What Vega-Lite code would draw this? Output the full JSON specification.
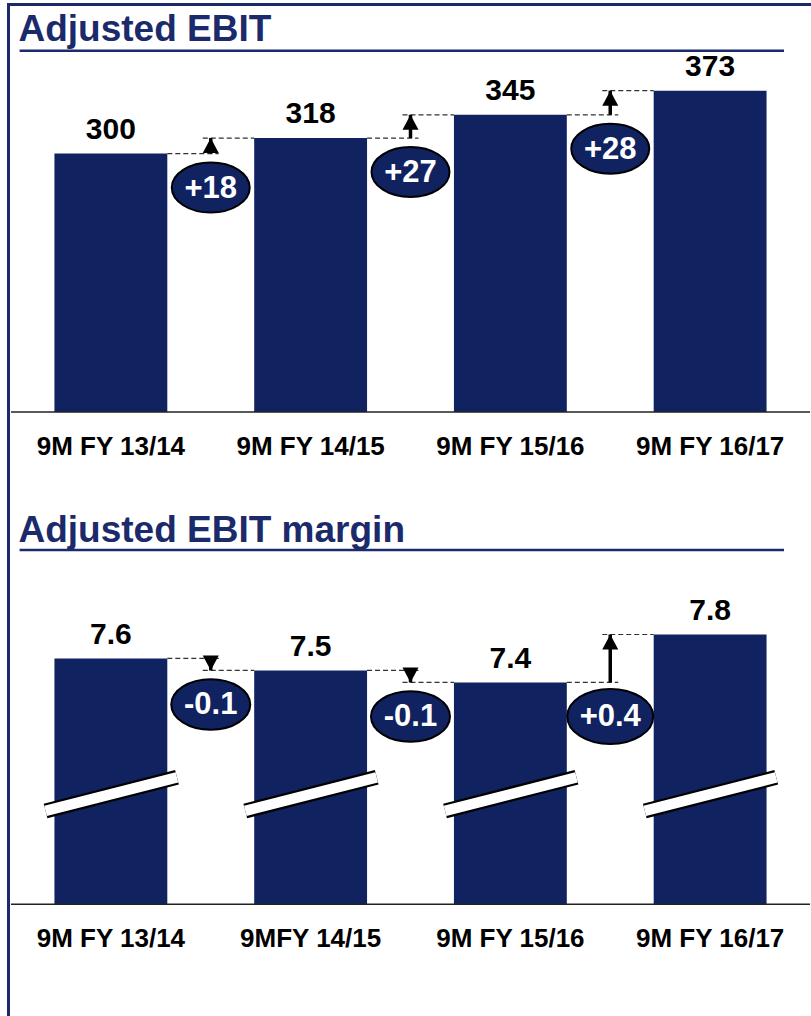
{
  "$schema": "https://vega.github.io/schema/vega-lite/v6.json",
  "width": 811,
  "height": 1016,
  "autosize": {"type": "fit", "contains": "padding"},
  "padding": {"left": 8, "top": 4, "right": 0, "bottom": 0},
  "background": "white",
  "config": {"view": {"stroke": null}, "font": "Liberation Sans"},
  "datasets": {
    "ebit": [
      {"cat": "9M FY 13/14", "label": "9M FY 13/14", "value": 300},
      {"cat": "9M FY 14/15", "label": "9M FY 14/15", "value": 318},
      {"cat": "9M FY 15/16", "label": "9M FY 15/16", "value": 345},
      {"cat": "9M FY 16/17", "label": "9M FY 16/17", "value": 373}
    ],
    "ebitDelta": [
      {"from": "9M FY 13/14", "to": "9M FY 14/15", "v0": 300, "v1": 318, "label": "+18"},
      {"from": "9M FY 14/15", "to": "9M FY 15/16", "v0": 318, "v1": 345, "label": "+27"},
      {"from": "9M FY 15/16", "to": "9M FY 16/17", "v0": 345, "v1": 373, "label": "+28"}
    ],
    "margin": [
      {"cat": "9M FY 13/14", "label": "9M FY 13/14", "value": 7.6},
      {"cat": "9M FY 14/15", "label": "9MFY 14/15", "value": 7.5},
      {"cat": "9M FY 15/16", "label": "9M FY 15/16", "value": 7.4},
      {"cat": "9M FY 16/17", "label": "9M FY 16/17", "value": 7.8}
    ],
    "marginDelta": [
      {"from": "9M FY 13/14", "to": "9M FY 14/15", "v0": 7.6, "v1": 7.5, "label": "-0.1"},
      {"from": "9M FY 14/15", "to": "9M FY 15/16", "v0": 7.5, "v1": 7.4, "label": "-0.1"},
      {"from": "9M FY 15/16", "to": "9M FY 16/17", "v0": 7.4, "v1": 7.8, "label": "+0.4"}
    ],
    "ebitTitle": [{"title": "Adjusted EBIT"}],
    "marginTitle": [{"title": "Adjusted EBIT margin"}]
  },
  "layer": [
    {
      "layer": [
        {
          "data": {"name": "ebit"},
          "mark": {"type": "bar", "color": "#10225F", "width": {"band": 0.565}},
          "encoding": {
            "x": {"field": "cat", "type": "nominal", "scale": {"padding": 0},
              "axis": {"orient": "top", "labels": false, "ticks": false, "grid": false, "title": null, "domainColor": "#1B2A6B", "domainWidth": 3, "domainCap": "square"}},
            "y": {"field": "value", "type": "quantitative", "scale": {"domain": [-701.0, 473.6], "nice": false, "zero": false},
              "axis": {"labels": false, "ticks": false, "grid": false, "title": null, "domainColor": "#1B2A6B", "domainWidth": 3, "domainCap": "square", "offset": 3}},
            "y2": {"datum": 0}
          }
        },
        {
          "data": {"name": "ebitTitle"},
          "mark": {"type": "rule", "color": "#222222", "strokeWidth": 1.5},
          "encoding": {"y": {"datum": 0, "type": "quantitative",
            "axis": {"labels": false, "ticks": false, "grid": false, "title": null, "domainColor": "#1B2A6B", "domainWidth": 3, "domainCap": "square", "offset": 3}}}
        },
        {
          "data": {"name": "ebitTitle"},
          "mark": {"type": "rule", "color": "#1B2A6B", "strokeWidth": 2.5},
          "encoding": {
            "x": {"datum": "9M FY 13/14", "type": "nominal", "bandPosition": 0.043,
              "axis": {"orient": "top", "labels": false, "ticks": false, "grid": false, "title": null, "domainColor": "#1B2A6B", "domainWidth": 3, "domainCap": "square"}},
            "x2": {"datum": "9M FY 16/17", "bandPosition": 0.87},
            "y": {"datum": 419.4, "type": "quantitative",
              "axis": {"labels": false, "ticks": false, "grid": false, "title": null, "domainColor": "#1B2A6B", "domainWidth": 3, "domainCap": "square", "offset": 3}}
          }
        },
        {
          "data": {"name": "ebitTitle"},
          "mark": {"type": "text", "align": "left", "baseline": "alphabetic", "dx": 7.5, "fontWeight": "bold", "fontSize": 37, "color": "#1B2A6B"},
          "encoding": {
            "x": {"datum": "9M FY 13/14", "type": "nominal", "bandPosition": 0,
              "axis": {"orient": "top", "labels": false, "ticks": false, "grid": false, "title": null, "domainColor": "#1B2A6B", "domainWidth": 3, "domainCap": "square"}},
            "y": {"datum": 431.1, "type": "quantitative",
              "axis": {"labels": false, "ticks": false, "grid": false, "title": null, "domainColor": "#1B2A6B", "domainWidth": 3, "domainCap": "square", "offset": 3}},
            "text": {"field": "title"}
          }
        },
        {
          "data": {"name": "ebit"},
          "mark": {"type": "text", "align": "center", "baseline": "alphabetic", "fontWeight": "bold", "fontSize": 26, "color": "#000000"},
          "encoding": {
            "x": {"field": "cat", "type": "nominal",
              "axis": {"orient": "top", "labels": false, "ticks": false, "grid": false, "title": null, "domainColor": "#1B2A6B", "domainWidth": 3, "domainCap": "square"}},
            "y": {"datum": -49.7, "type": "quantitative",
              "axis": {"labels": false, "ticks": false, "grid": false, "title": null, "domainColor": "#1B2A6B", "domainWidth": 3, "domainCap": "square", "offset": 3}},
            "text": {"field": "label"}
          }
        },
        {
          "data": {"name": "ebit"},
          "mark": {"type": "text", "align": "center", "baseline": "alphabetic", "dy": -15, "fontWeight": "bold", "fontSize": 30, "color": "#000000"},
          "encoding": {
            "x": {"field": "cat", "type": "nominal",
              "axis": {"orient": "top", "labels": false, "ticks": false, "grid": false, "title": null, "domainColor": "#1B2A6B", "domainWidth": 3, "domainCap": "square"}},
            "y": {"field": "value", "type": "quantitative",
              "axis": {"labels": false, "ticks": false, "grid": false, "title": null, "domainColor": "#1B2A6B", "domainWidth": 3, "domainCap": "square", "offset": 3}},
            "text": {"field": "value", "type": "quantitative", "format": "d"}
          }
        },
        {
          "data": {"name": "ebitDelta"},
          "mark": {"type": "rule", "color": "#333333", "strokeWidth": 1.2, "strokeDash": [5, 3]},
          "encoding": {
            "x": {"field": "from", "type": "nominal", "bandPosition": 0.7825,
              "axis": {"orient": "top", "labels": false, "ticks": false, "grid": false, "title": null, "domainColor": "#1B2A6B", "domainWidth": 3, "domainCap": "square"}},
            "x2": {"field": "to", "bandPosition": 0.04},
            "y": {"field": "v0", "type": "quantitative",
              "axis": {"labels": false, "ticks": false, "grid": false, "title": null, "domainColor": "#1B2A6B", "domainWidth": 3, "domainCap": "square", "offset": 3}}
          }
        },
        {
          "data": {"name": "ebitDelta"},
          "mark": {"type": "rule", "color": "#333333", "strokeWidth": 1.2, "strokeDash": [5, 3]},
          "encoding": {
            "x": {"field": "from", "type": "nominal", "bandPosition": 0.96,
              "axis": {"orient": "top", "labels": false, "ticks": false, "grid": false, "title": null, "domainColor": "#1B2A6B", "domainWidth": 3, "domainCap": "square"}},
            "x2": {"field": "to", "bandPosition": 0.2175},
            "y": {"field": "v1", "type": "quantitative",
              "axis": {"labels": false, "ticks": false, "grid": false, "title": null, "domainColor": "#1B2A6B", "domainWidth": 3, "domainCap": "square", "offset": 3}}
          }
        },
        {
          "data": {"name": "ebitDelta"},
          "mark": {"type": "rule", "color": "#000000", "strokeWidth": 3.5},
          "encoding": {
            "x": {"field": "to", "type": "nominal", "bandPosition": 0,
              "axis": {"orient": "top", "labels": false, "ticks": false, "grid": false, "title": null, "domainColor": "#1B2A6B", "domainWidth": 3, "domainCap": "square"}},
            "y": {"field": "v0", "type": "quantitative",
              "axis": {"labels": false, "ticks": false, "grid": false, "title": null, "domainColor": "#1B2A6B", "domainWidth": 3, "domainCap": "square", "offset": 3}},
            "y2": {"field": "v1"}
          }
        },
        {
          "data": {"name": "ebitDelta"},
          "mark": {"type": "point", "filled": true, "color": "#000000", "opacity": 1, "size": 256, "strokeWidth": 0},
          "encoding": {
            "x": {"field": "to", "type": "nominal", "bandPosition": 0,
              "axis": {"orient": "top", "labels": false, "ticks": false, "grid": false, "title": null, "domainColor": "#1B2A6B", "domainWidth": 3, "domainCap": "square"}},
            "y": {"field": "v1", "type": "quantitative",
              "axis": {"labels": false, "ticks": false, "grid": false, "title": null, "domainColor": "#1B2A6B", "domainWidth": 3, "domainCap": "square", "offset": 3}},
            "shape": {"condition": {"test": "datum.v1 < datum.v0", "value": "M0,0L-1,-1.875L1,-1.875Z"}, "value": "M0,0L-1,1.875L1,1.875Z"}
          }
        },
        {
          "data": {"name": "ebitDelta"},
          "transform": [
            {"fold": ["v0", "v1"], "as": ["k", "val"]},
            {"aggregate": [{"op": "min", "field": "val", "as": "lo"}], "groupby": ["to", "label"]}
          ],
          "encoding": {
            "x": {"field": "to", "type": "nominal", "bandPosition": 0,
              "axis": {"orient": "top", "labels": false, "ticks": false, "grid": false, "title": null, "domainColor": "#1B2A6B", "domainWidth": 3, "domainCap": "square"}},
            "y": {"field": "lo", "type": "quantitative",
              "axis": {"labels": false, "ticks": false, "grid": false, "title": null, "domainColor": "#1B2A6B", "domainWidth": 3, "domainCap": "square", "offset": 3}}
          },
          "layer": [
            {
              "mark": {"type": "point", "shape": "M1,0C1,0.3535,0.5523,0.64,0,0.64C-0.5523,0.64,-1,0.3535,-1,0C-1,-0.3535,-0.5523,-0.64,0,-0.64C0.5523,-0.64,1,-0.3535,1,0Z", "size": 6084, "fill": "#10225F", "filled": true, "stroke": "#000000", "strokeWidth": 2, "opacity": 1, "yOffset": 34}
            },
            {
              "mark": {"type": "text", "align": "center", "baseline": "middle", "dy": 35, "fontWeight": "bold", "fontSize": 31, "color": "#FFFFFF"},
              "encoding": {"text": {"field": "label"}}
            }
          ]
        }
      ]
    },
    {
      "layer": [
        {
          "data": {"name": "margin"},
          "mark": {"type": "bar", "color": "#10225F", "width": {"band": 0.565}},
          "encoding": {
            "x": {"field": "cat", "type": "nominal",
              "axis": {"orient": "top", "labels": false, "ticks": false, "grid": false, "title": null, "domainColor": "#1B2A6B", "domainWidth": 3, "domainCap": "square"}},
            "y": {"field": "value", "type": "quantitative", "scale": {"domain": [4.617, 13.06], "nice": false, "zero": false}, "axis": null},
            "y2": {"datum": 5.55}
          }
        },
        {
          "data": {"name": "margin"},
          "mark": {"type": "rule", "color": "#000000", "strokeWidth": 15},
          "encoding": {
            "x": {"field": "cat", "type": "nominal", "bandPosition": 0.173,
              "axis": {"orient": "top", "labels": false, "ticks": false, "grid": false, "title": null, "domainColor": "#1B2A6B", "domainWidth": 3, "domainCap": "square"}},
            "x2": {"field": "cat", "bandPosition": 0.831},
            "y": {"datum": 6.328, "type": "quantitative", "axis": null},
            "y2": {"datum": 6.608}
          }
        },
        {
          "data": {"name": "margin"},
          "mark": {"type": "rule", "color": "#FFFFFF", "strokeWidth": 10.5},
          "encoding": {
            "x": {"field": "cat", "type": "nominal", "bandPosition": 0.173,
              "axis": {"orient": "top", "labels": false, "ticks": false, "grid": false, "title": null, "domainColor": "#1B2A6B", "domainWidth": 3, "domainCap": "square"}},
            "x2": {"field": "cat", "bandPosition": 0.831},
            "y": {"datum": 6.328, "type": "quantitative", "axis": null},
            "y2": {"datum": 6.608}
          }
        },
        {
          "data": {"name": "marginTitle"},
          "mark": {"type": "rule", "color": "#222222", "strokeWidth": 1.5},
          "encoding": {"y": {"datum": 5.55, "type": "quantitative", "axis": null}}
        },
        {
          "data": {"name": "marginTitle"},
          "mark": {"type": "rule", "color": "#1B2A6B", "strokeWidth": 2.5},
          "encoding": {
            "x": {"datum": "9M FY 13/14", "type": "nominal", "bandPosition": 0.043,
              "axis": {"orient": "top", "labels": false, "ticks": false, "grid": false, "title": null, "domainColor": "#1B2A6B", "domainWidth": 3, "domainCap": "square"}},
            "x2": {"datum": "9M FY 16/17", "bandPosition": 0.87},
            "y": {"datum": 8.504, "type": "quantitative", "axis": null}
          }
        },
        {
          "data": {"name": "marginTitle"},
          "mark": {"type": "text", "align": "left", "baseline": "alphabetic", "dx": 7.5, "fontWeight": "bold", "fontSize": 37, "color": "#1B2A6B"},
          "encoding": {
            "x": {"datum": "9M FY 13/14", "type": "nominal", "bandPosition": 0,
              "axis": {"orient": "top", "labels": false, "ticks": false, "grid": false, "title": null, "domainColor": "#1B2A6B", "domainWidth": 3, "domainCap": "square"}},
            "y": {"datum": 8.571, "type": "quantitative", "axis": null},
            "text": {"field": "title"}
          }
        },
        {
          "data": {"name": "margin"},
          "mark": {"type": "text", "align": "center", "baseline": "alphabetic", "fontWeight": "bold", "fontSize": 26, "color": "#000000"},
          "encoding": {
            "x": {"field": "cat", "type": "nominal",
              "axis": {"orient": "top", "labels": false, "ticks": false, "grid": false, "title": null, "domainColor": "#1B2A6B", "domainWidth": 3, "domainCap": "square"}},
            "y": {"datum": 5.19, "type": "quantitative", "axis": null},
            "text": {"field": "label"}
          }
        },
        {
          "data": {"name": "margin"},
          "mark": {"type": "text", "align": "center", "baseline": "alphabetic", "dy": -14, "fontWeight": "bold", "fontSize": 30, "color": "#000000"},
          "encoding": {
            "x": {"field": "cat", "type": "nominal",
              "axis": {"orient": "top", "labels": false, "ticks": false, "grid": false, "title": null, "domainColor": "#1B2A6B", "domainWidth": 3, "domainCap": "square"}},
            "y": {"field": "value", "type": "quantitative", "axis": null},
            "text": {"field": "value", "type": "quantitative", "format": ".1f"}
          }
        },
        {
          "data": {"name": "marginDelta"},
          "mark": {"type": "rule", "color": "#333333", "strokeWidth": 1.2, "strokeDash": [5, 3]},
          "encoding": {
            "x": {"field": "from", "type": "nominal", "bandPosition": 0.7825,
              "axis": {"orient": "top", "labels": false, "ticks": false, "grid": false, "title": null, "domainColor": "#1B2A6B", "domainWidth": 3, "domainCap": "square"}},
            "x2": {"field": "to", "bandPosition": 0.04},
            "y": {"field": "v0", "type": "quantitative", "axis": null}
          }
        },
        {
          "data": {"name": "marginDelta"},
          "mark": {"type": "rule", "color": "#333333", "strokeWidth": 1.2, "strokeDash": [5, 3]},
          "encoding": {
            "x": {"field": "from", "type": "nominal", "bandPosition": 0.96,
              "axis": {"orient": "top", "labels": false, "ticks": false, "grid": false, "title": null, "domainColor": "#1B2A6B", "domainWidth": 3, "domainCap": "square"}},
            "x2": {"field": "to", "bandPosition": 0.2175},
            "y": {"field": "v1", "type": "quantitative", "axis": null}
          }
        },
        {
          "data": {"name": "marginDelta"},
          "mark": {"type": "rule", "color": "#000000", "strokeWidth": 3.5},
          "encoding": {
            "x": {"field": "to", "type": "nominal", "bandPosition": 0,
              "axis": {"orient": "top", "labels": false, "ticks": false, "grid": false, "title": null, "domainColor": "#1B2A6B", "domainWidth": 3, "domainCap": "square"}},
            "y": {"field": "v0", "type": "quantitative", "axis": null},
            "y2": {"field": "v1"}
          }
        },
        {
          "data": {"name": "marginDelta"},
          "mark": {"type": "point", "filled": true, "color": "#000000", "opacity": 1, "size": 256, "strokeWidth": 0},
          "encoding": {
            "x": {"field": "to", "type": "nominal", "bandPosition": 0,
              "axis": {"orient": "top", "labels": false, "ticks": false, "grid": false, "title": null, "domainColor": "#1B2A6B", "domainWidth": 3, "domainCap": "square"}},
            "y": {"field": "v1", "type": "quantitative", "axis": null},
            "shape": {"condition": {"test": "datum.v1 < datum.v0", "value": "M0,0L-1,-1.875L1,-1.875Z"}, "value": "M0,0L-1,1.875L1,1.875Z"}
          }
        },
        {
          "data": {"name": "marginDelta"},
          "transform": [
            {"fold": ["v0", "v1"], "as": ["k", "val"]},
            {"aggregate": [{"op": "min", "field": "val", "as": "lo"}], "groupby": ["to", "label"]}
          ],
          "encoding": {
            "x": {"field": "to", "type": "nominal", "bandPosition": 0,
              "axis": {"orient": "top", "labels": false, "ticks": false, "grid": false, "title": null, "domainColor": "#1B2A6B", "domainWidth": 3, "domainCap": "square"}},
            "y": {"field": "lo", "type": "quantitative", "axis": null}
          },
          "layer": [
            {
              "mark": {"type": "point", "shape": "M1,0C1,0.3535,0.5523,0.64,0,0.64C-0.5523,0.64,-1,0.3535,-1,0C-1,-0.3535,-0.5523,-0.64,0,-0.64C0.5523,-0.64,1,-0.3535,1,0Z", "fill": "#10225F", "filled": true, "stroke": "#000000", "strokeWidth": 2, "opacity": 1, "yOffset": 34},
              "encoding": {"size": {"condition": {"test": "datum.label === '+0.4'", "value": 7396}, "value": 6241}}
            },
            {
              "mark": {"type": "text", "align": "center", "baseline": "middle", "dy": 35, "fontWeight": "bold", "fontSize": 31, "color": "#FFFFFF"},
              "encoding": {"text": {"field": "label"}}
            }
          ]
        }
      ]
    }
  ],
  "resolve": {"scale": {"y": "independent"}}
}
